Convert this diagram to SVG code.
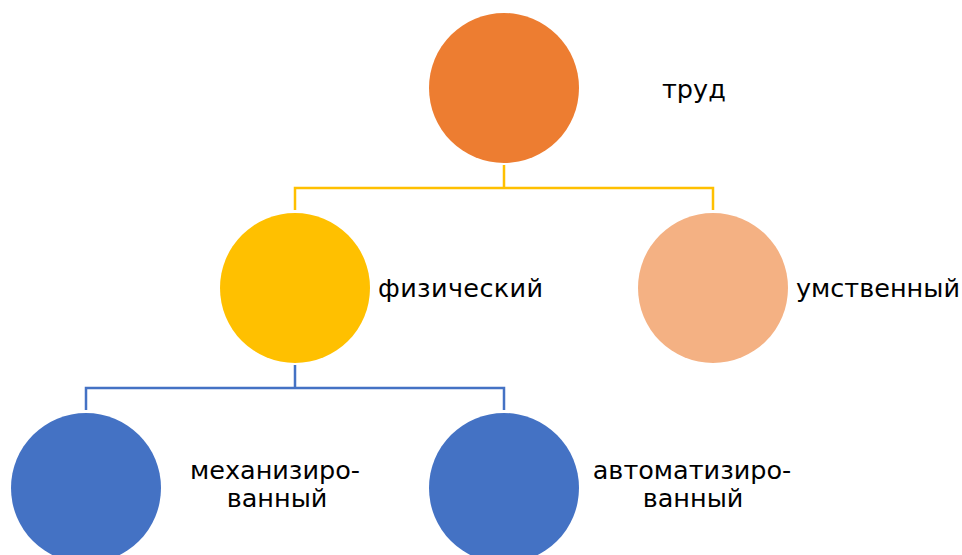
<svg xmlns="http://www.w3.org/2000/svg" width="962" height="555" viewBox="0 0 962 555">
<style>
text{font-family:"DejaVu Sans","Verdana",sans-serif;font-size:25.5px;fill:#000}
.m{text-anchor:middle}
.c{fill:none;stroke-width:2.5}
</style>
<rect width="962" height="555" fill="#fff"/>
<g id="connectors">
<path class="c" stroke="#FFC000" d="M504 165V188M295 210V188H713V210"/>
<path class="c" stroke="#4472C4" d="M295 365V388M86 410V388H504V410"/>
</g>
<g id="trud"><circle cx="504" cy="88" r="75" fill="#ED7D31"/><text x="662" y="98">труд</text></g>
<g id="fiz"><circle cx="295" cy="288" r="75" fill="#FFC000"/><text x="378" y="297" textLength="165" lengthAdjust="spacing">физический</text></g>
<g id="umst"><circle cx="713" cy="288" r="75" fill="#F4B183"/><text x="796" y="297">умственный</text></g>
<g id="mech"><circle cx="86" cy="488" r="75" fill="#4472C4"/><text class="m" x="275" y="479">механизиро-</text><text class="m" x="277" y="507">ванный</text></g>
<g id="auto"><circle cx="504" cy="488" r="75" fill="#4472C4"/><text class="m" x="692" y="479">автоматизиро-</text><text class="m" x="693" y="507">ванный</text></g>
</svg>
